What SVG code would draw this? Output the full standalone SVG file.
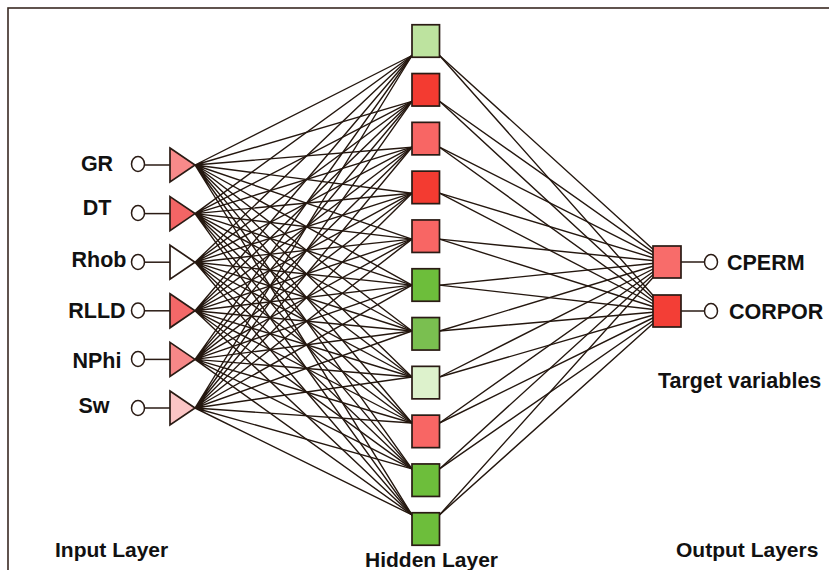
<svg xmlns="http://www.w3.org/2000/svg" width="829" height="570" viewBox="0 0 829 570">
  <style>
    .frame { fill: none; stroke: #3a2a22; stroke-width: 1.6; }
    .wire { fill: none; stroke: #24170f; stroke-width: 1.4; stroke-linecap: round; }
    .node { stroke: #2a1b14; stroke-width: 1.7; stroke-linejoin: miter; }
    .port { fill: #ffffff; stroke: #2a1b14; stroke-width: 1.5; }
    .stub { stroke: #2a1b14; stroke-width: 1.5; }
    .lbl { font-family: "Liberation Sans", Arial, sans-serif; font-weight: bold; font-size: 21.5px; fill: #111111; }
    .cap { font-family: "Liberation Sans", Arial, sans-serif; font-weight: bold; font-size: 21px; fill: #111111; }
  </style>

  <rect width="829" height="570" fill="#ffffff"/>
  <rect class="frame" x="8" y="8" width="900" height="620"/>

  <!-- connections: input apexes to hidden units, hidden units to outputs -->
  <g id="connectors">
    <path class="wire" d="M195 165L412 55.5M195 165L412 101.3M195 165L412 147.2M195 165L412 193.2M195 165L412 239.1M195 165L412 285.1M195 165L412 331M195 165L412 377M195 165L412 423M195 165L412 468.9M195 165L412 514.9"/>
    <path class="wire" d="M195 213.6L412 55.5M195 213.6L412 101.3M195 213.6L412 147.2M195 213.6L412 193.2M195 213.6L412 239.1M195 213.6L412 285.1M195 213.6L412 331M195 213.6L412 377M195 213.6L412 423M195 213.6L412 468.9M195 213.6L412 514.9"/>
    <path class="wire" d="M195 262.2L412 55.5M195 262.2L412 101.3M195 262.2L412 147.2M195 262.2L412 193.2M195 262.2L412 239.1M195 262.2L412 285.1M195 262.2L412 331M195 262.2L412 377M195 262.2L412 423M195 262.2L412 468.9M195 262.2L412 514.9"/>
    <path class="wire" d="M195 310.8L412 55.5M195 310.8L412 101.3M195 310.8L412 147.2M195 310.8L412 193.2M195 310.8L412 239.1M195 310.8L412 285.1M195 310.8L412 331M195 310.8L412 377M195 310.8L412 423M195 310.8L412 468.9M195 310.8L412 514.9"/>
    <path class="wire" d="M195 359.4L412 55.5M195 359.4L412 101.3M195 359.4L412 147.2M195 359.4L412 193.2M195 359.4L412 239.1M195 359.4L412 285.1M195 359.4L412 331M195 359.4L412 377M195 359.4L412 423M195 359.4L412 468.9M195 359.4L412 514.9"/>
    <path class="wire" d="M195 408L412 55.5M195 408L412 101.3M195 408L412 147.2M195 408L412 193.2M195 408L412 239.1M195 408L412 285.1M195 408L412 331M195 408L412 377M195 408L412 423M195 408L412 468.9M195 408L412 514.9"/>
    <path class="wire" d="M439.5 55.5L667 262M439.5 101.3L667 262M439.5 147.2L667 262M439.5 193.2L667 262M439.5 239.1L667 262M439.5 285.1L667 262M439.5 331L667 262M439.5 377L667 262M439.5 423L667 262M439.5 468.9L667 262M439.5 514.9L667 262"/>
    <path class="wire" d="M439.5 55.5L667 311M439.5 101.3L667 311M439.5 147.2L667 311M439.5 193.2L667 311M439.5 239.1L667 311M439.5 285.1L667 311M439.5 331L667 311M439.5 377L667 311M439.5 423L667 311M439.5 468.9L667 311M439.5 514.9L667 311"/>
  </g>

  <!-- input layer -->
  <g id="in-gr">
    <text class="lbl" x="97" y="171" text-anchor="middle">GR</text>
    <ellipse class="port" cx="138" cy="164" rx="6.5" ry="7.5"/>
    <line class="stub" x1="144.5" y1="165" x2="170" y2="165"/>
    <polygon class="node" fill="#f88a8a" points="170,148 195,165 170,182"/>
  </g>
  <g id="in-dt">
    <text class="lbl" x="97" y="215" text-anchor="middle">DT</text>
    <ellipse class="port" cx="138" cy="213" rx="6.5" ry="7.5"/>
    <line class="stub" x1="144.5" y1="213.6" x2="170" y2="213.6"/>
    <polygon class="node" fill="#f36565" points="170,196.6 195,213.6 170,230.6"/>
  </g>
  <g id="in-rhob">
    <text class="lbl" x="99" y="267" text-anchor="middle">Rhob</text>
    <ellipse class="port" cx="138" cy="262" rx="6.5" ry="7.5"/>
    <line class="stub" x1="144.5" y1="262.2" x2="170" y2="262.2"/>
    <polygon class="node" fill="#ffffff" points="170,245.2 195,262.2 170,279.2"/>
  </g>
  <g id="in-rlld">
    <text class="lbl" x="97" y="318" text-anchor="middle">RLLD</text>
    <ellipse class="port" cx="138" cy="310.5" rx="6.5" ry="7.5"/>
    <line class="stub" x1="144.5" y1="310.8" x2="170" y2="310.8"/>
    <polygon class="node" fill="#f36868" points="170,293.8 195,310.8 170,327.8"/>
  </g>
  <g id="in-nphi">
    <text class="lbl" x="97" y="368" text-anchor="middle">NPhi</text>
    <ellipse class="port" cx="138" cy="359" rx="6.5" ry="7.5"/>
    <line class="stub" x1="144.5" y1="359.4" x2="170" y2="359.4"/>
    <polygon class="node" fill="#f68888" points="170,342.4 195,359.4 170,376.4"/>
  </g>
  <g id="in-sw">
    <text class="lbl" x="94" y="413" text-anchor="middle">Sw</text>
    <ellipse class="port" cx="138" cy="408" rx="6.5" ry="7.5"/>
    <line class="stub" x1="144.5" y1="408" x2="170" y2="408"/>
    <polygon class="node" fill="#fbc5c5" points="170,391 195,408 170,425"/>
  </g>

  <!-- hidden layer -->
  <g id="h1"><rect class="node" fill="#bde39f" x="412" y="24.75" width="27.5" height="32.5"/></g>
  <g id="h2"><rect class="node" fill="#f33b31" x="412" y="73.55" width="27.5" height="32.5"/></g>
  <g id="h3"><rect class="node" fill="#f86664" x="412" y="122.35" width="27.5" height="32.5"/></g>
  <g id="h4"><rect class="node" fill="#f33b31" x="412" y="171.15" width="27.5" height="32.5"/></g>
  <g id="h5"><rect class="node" fill="#f86664" x="412" y="219.95" width="27.5" height="32.5"/></g>
  <g id="h6"><rect class="node" fill="#6dbe3b" x="412" y="268.75" width="27.5" height="32.5"/></g>
  <g id="h7"><rect class="node" fill="#7abf50" x="412" y="317.55" width="27.5" height="32.5"/></g>
  <g id="h8"><rect class="node" fill="#ddf2cc" x="412" y="366.35" width="27.5" height="32.5"/></g>
  <g id="h9"><rect class="node" fill="#f86664" x="412" y="415.15" width="27.5" height="32.5"/></g>
  <g id="h10"><rect class="node" fill="#6dbe3b" x="412" y="463.95" width="27.5" height="32.5"/></g>
  <g id="h11"><rect class="node" fill="#6dbe3b" x="412" y="512.75" width="27.5" height="32.5"/></g>

  <!-- output layer -->
  <g id="out-cperm">
    <rect class="node" fill="#f86c6a" x="653" y="246" width="28" height="32"/>
    <line class="stub" x1="681" y1="262" x2="704.5" y2="262"/>
    <ellipse class="port" cx="711" cy="262" rx="6.5" ry="7.5"/>
    <text class="lbl" x="727" y="269.5">CPERM</text>
  </g>
  <g id="out-corpor">
    <rect class="node" fill="#f33e36" x="653" y="295" width="28" height="32"/>
    <line class="stub" x1="681" y1="311" x2="704.5" y2="311"/>
    <ellipse class="port" cx="711" cy="311" rx="6.5" ry="7.5"/>
    <text class="lbl" x="729" y="319">CORPOR</text>
  </g>

  <!-- captions -->
  <text class="lbl" x="658" y="388">Target variables</text>
  <text class="cap" x="55" y="557">Input Layer</text>
  <text class="cap" x="365" y="567">Hidden Layer</text>
  <text class="cap" x="676" y="557">Output Layers</text>
</svg>
